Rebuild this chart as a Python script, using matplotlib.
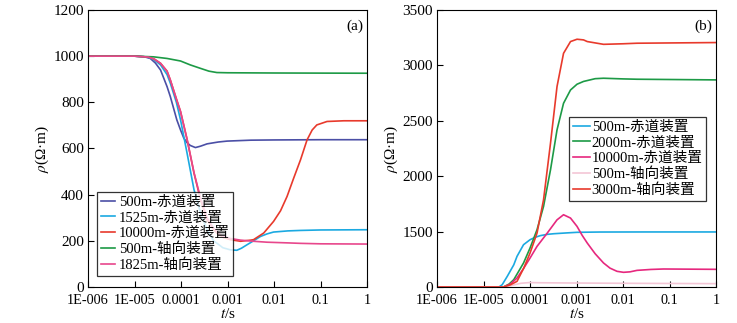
import matplotlib.pyplot as plt
import numpy as np
from matplotlib.ticker import FixedLocator, FixedFormatter

# fonts: Times-like for latin, CJK fallback for Chinese
FONT = ['Liberation Serif', 'Noto Sans CJK SC']
plt.rcParams['font.family'] = FONT
plt.rcParams['mathtext.fontset'] = 'stix'

# ---- panel (a) data: log10(t) and rho (Ohm*m) ----
a_blue_t = [-6, -5, -4.8, -4.66, -4.55, -4.44, -4.30, -4.23, -4.09, -4.01, -3.94, -3.87,
            -3.80, -3.69, -3.58, -3.44, -3.2, -3.01, -2.5, -2.0, -1.0, 0]
a_blue_v = [1000, 1000, 998, 990, 970, 940, 868, 825, 724, 680, 645, 625,
            613, 604, 610, 620, 628, 632, 636, 637, 638, 638]

a_cyan_t = [-6, -5, -4.7, -4.58, -4.44, -4.3, -4.23, -4.10, -4.01, -3.87, -3.72, -3.58, -3.44,
            -3.3, -3.23, -3.1, -2.94, -2.8, -2.7, -2.58, -2.44, -2.29, -2.15, -2.01, -1.7,
            -1.43, -1.0, 0]
a_cyan_v = [1000, 1000, 995, 985, 962, 920, 883, 800, 724, 580, 421, 320, 248,
            200, 190, 170, 161, 159, 168, 183, 200, 219, 230, 238, 243,
            245, 247, 248]

a_red_t = [-6, -5, -4.7, -4.58, -4.44, -4.3, -4.23, -4.1, -4.01, -3.87, -3.72, -3.58, -3.44,
           -3.3, -3.23, -3.1, -2.94, -2.72, -2.5, -2.44, -2.22, -2.01, -1.86, -1.72, -1.58,
           -1.43, -1.29, -1.18, -1.08, -0.86, -0.5, 0]
a_red_v = [1000, 1000, 996, 988, 969, 935, 897, 815, 760, 640, 493, 378, 291,
           250, 234, 215, 205, 198, 203, 205, 234, 284, 330, 392, 470,
           551, 637, 680, 702, 717, 720, 720]

a_green_t = [-6, -5, -4.59, -4.3, -4.01, -3.8, -3.58, -3.4, -3.23, -3.0, -2.0, 0]
a_green_v = [1000, 1000, 997, 990, 979, 962, 947, 935, 929, 928, 927, 926]

a_pink_t = [-6, -5, -4.7, -4.58, -4.44, -4.3, -4.23, -4.1, -4.01, -3.87, -3.72, -3.58, -3.44,
            -3.3, -3.23, -3.1, -2.94, -2.72, -2.44, -2.15, -1.7, -1.43, -1.0, 0]
a_pink_v = [1000, 1000, 996, 988, 969, 935, 897, 815, 760, 640, 495, 385, 300,
            255, 238, 220, 210, 203, 198, 194, 191, 189, 187, 186]

# ---- panel (b) data ----
b_cyan_t = [-6, -4.67, -4.6, -4.49, -4.35, -4.28, -4.14, -4.0, -3.89, -3.78, -3.63, -3.49,
            -3.2, -2.99, -2.5, -1.5, 0]
b_cyan_v = [0, 0, 60, 288, 600, 830, 1145, 1280, 1345, 1390, 1425, 1442,
            1465, 1480, 1488, 1490, 1490]

b_green_t = [-6, -4.57, -4.45, -4.35, -4.14, -4.0, -3.85, -3.71, -3.56, -3.42, -3.28, -3.13,
             -2.99, -2.85, -2.6, -2.42, -2.0, -1.7, 0]
b_green_v = [0, 0, 80, 198, 650, 1055, 1517, 1727, 2058, 2418, 2658, 2778,
             2830, 2855, 2880, 2884, 2878, 2875, 2869]

b_pink_t = [-6, -4.57, -4.42, -4.28, -4.14, -4.0, -3.85, -3.63, -3.42, -3.28, -3.13, -2.99,
            -2.88, -2.77, -2.6, -2.42, -2.28, -2.13, -1.99, -1.85, -1.7, -1.4, -1.13, 0]
b_pink_v = [0, 0, 80, 243, 500, 784, 1100, 1460, 1606, 1652, 1622, 1547,
            1400, 1190, 900, 650, 510, 424, 397, 410, 450, 475, 487, 478]

b_lpink_t = [-6, -4.57, -4.4, -4.2, -4.01, -3.8, -3.13, -2.0, 0]
b_lpink_v = [0, 0, 40, 100, 120, 115, 108, 100, 90]

b_red_t = [-6, -4.57, -4.42, -4.28, -4.14, -4.0, -3.85, -3.71, -3.56, -3.42, -3.28, -3.13,
           -2.99, -2.85, -2.77, -2.42, -2.0, -1.7, 0]
b_red_v = [0, 0, 60, 153, 500, 920, 1460, 1787, 2298, 2809, 3109, 3215,
           3236, 3230, 3215, 3190, 3195, 3200, 3206]

x_ticks = [1e-6, 1e-5, 1e-4, 1e-3, 1e-2, 1e-1, 1]
x_labels = ['1E-006', '1E-005', '0.0001', '0.001', '0.01', '0.1', '1']
a_yticks = [0, 200, 400, 600, 800, 1000, 1200]
b_yticks = [0, 1500, 2000, 2500, 3000, 3500]

a_series = [(a_blue_t, a_blue_v, '#4b4fa6', '500m-赤道装置'),
            (a_cyan_t, a_cyan_v, '#1ba9e1', '1525m-赤道装置'),
            (a_red_t, a_red_v, '#e83a2c', '10000m-赤道装置'),
            (a_green_t, a_green_v, '#1d9a46', '500m-轴向装置'),
            (a_pink_t, a_pink_v, '#e8478c', '1825m-轴向装置')]
b_series = [(b_cyan_t, b_cyan_v, '#1ba9e1', '500m-赤道装置'),
            (b_green_t, b_green_v, '#1d9a46', '2000m-赤道装置'),
            (b_pink_t, b_pink_v, '#e6287e', '10000m-赤道装置'),
            (b_lpink_t, b_lpink_v, '#f3c6d6', '500m-轴向装置'),
            (b_red_t, b_red_v, '#e83a2c', '3000m-轴向装置')]


# panel (b) y axis: 0..1500 squeezed into one tick interval, then 500 per interval
def fwd(y):
    y = np.asarray(y, dtype=float)
    return np.where(y < 1500, y / 1500.0, 1 + (y - 1500) / 500.0)


def inv(u):
    u = np.asarray(u, dtype=float)
    return np.where(u < 1, u * 1500.0, 1500 + (u - 1) * 500.0)


fig = plt.figure(figsize=(7.37, 3.23), dpi=100)
ax1 = fig.add_axes([0.1194, 0.1115, 0.3786, 0.8576])
ax2 = fig.add_axes([0.593, 0.1115, 0.3786, 0.8576])


def style_axis(ax, series, yticks, tag, legend_loc, hl, htp):
    for t, v, c, lab in series:
        ax.plot(10 ** np.array(t), v, color=c, lw=1.2, label=lab)
    ax.set_xscale('log')
    ax.set_xlim(1e-6, 1)
    ax.xaxis.set_major_locator(FixedLocator(x_ticks))
    ax.xaxis.set_major_formatter(FixedFormatter(x_labels))
    ax.xaxis.set_minor_locator(FixedLocator([]))
    ax.set_yticks(yticks)
    ax.set_yticklabels([str(y) for y in yticks])
    ax.tick_params(direction='in', length=4, width=0.8, labelsize=11, pad=3)
    ax.tick_params(axis='x', labelsize=10.3, pad=5)
    ax.set_xlabel('$t$/s', fontsize=11, labelpad=0)
    ax.set_ylabel(r'$\rho$(Ω·m)', fontsize=11, labelpad=2)
    for s in ax.spines.values():
        s.set_linewidth(0.8)
    ax.text(0.955, 0.94, tag, transform=ax.transAxes, ha='center', va='center', fontsize=11)
    leg = ax.legend(loc='upper left', bbox_to_anchor=legend_loc, fontsize=10.5, frameon=True,
                    fancybox=False, edgecolor='black', borderpad=0.25, labelspacing=0.17,
                    handlelength=hl, handletextpad=htp, borderaxespad=0)
    leg.get_frame().set_linewidth(0.9)
    return leg


style_axis(ax1, a_series, a_yticks, '(a)', (0.032, 0.343), 1.0, 0.25)
ax1.set_ylim(0, 1200)

ax2.set_yscale('function', functions=(fwd, inv))
style_axis(ax2, b_series, b_yticks, '(b)', (0.473, 0.614), 1.2, 0.1)
ax2.set_ylim(0, 3500)

fig.savefig('out.png', dpi=100)
